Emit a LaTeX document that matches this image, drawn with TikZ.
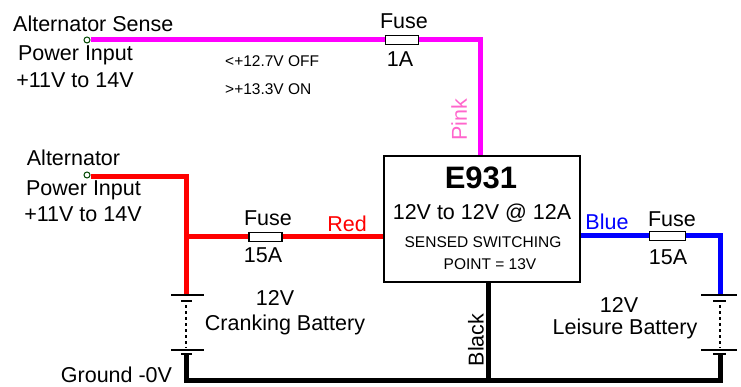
\documentclass[tikz,border=0pt]{standalone}
\usepackage{fontspec}
\setmainfont{Liberation Sans}
\definecolor{wirepink}{RGB}{255,0,255}
\definecolor{textpink}{RGB}{255,102,204}
\definecolor{wirered}{RGB}{255,0,0}
\definecolor{wireblue}{RGB}{0,0,255}
\definecolor{termgreen}{RGB}{0,70,0}
\tikzset{
	lbl/.style={inner sep=0pt,font=\fontsize{21.5}{24}\selectfont},
	smalllbl/.style={inner sep=0pt,font=\fontsize{15.5}{17}\selectfont},
	wire/.style={line width=5pt},
	fusebox/.style={draw,fill=white,line width=1.5pt,minimum width=33pt,minimum height=9pt,inner sep=0pt},
	terminal/.style={circle,draw=termgreen,fill=white,line width=1pt,minimum size=6pt,inner sep=0pt},
	plate/.style={line width=1.5pt},
}
\begin{document}
\begin{tikzpicture}[x=1pt,y=-1pt]
		\useasboundingbox (0,0) rectangle (741,387);
		\coordinate (pinkcorner) at (480,40);
		\coordinate (redcorner) at (186,177);
		\coordinate (redjoin) at (186,237);
		\coordinate (crankplus) at (186,295);
		\coordinate (crankminus) at (186,353);
		\coordinate (groundcorner) at (186,380);
		\coordinate (bluecorner) at (720,236);
		\coordinate (leisplus) at (720,295);
		\coordinate (leisminus) at (720,353);
		\coordinate (leiscorner) at (720,380);
		\coordinate (blackjoin) at (488,380);
		\node[draw,line width=2.5pt,minimum width=196pt,minimum height=126pt,inner sep=0pt] (e931) at (481.75,219) {};
		\node[fusebox] (fuseone) at (402,40) {};
		\node[fusebox] (fusered) at (265.5,237) {};
		\node[fusebox,minimum width=36pt] (fuseblue) at (667.5,236) {};
		\node[terminal] (senseterm) at (87,40) {};
		\node[terminal] (altterm) at (87,175) {};
		% wires
		\draw[wire,color=wirepink] (senseterm.east) -- (fuseone.west);
		\draw[wire,color=wirepink] (fuseone.east) -- (pinkcorner) -- (e931.north -| pinkcorner);
		\draw[wire,color=wirered] (altterm.east |- redcorner) -- (redcorner) -- (crankplus);
		\draw[wire,color=wirered] (redjoin) -- (fusered.west);
		\draw[wire,color=wirered] (fusered.east) -- (e931.west |- fusered);
		\draw[wire,color=wireblue] (e931.east |- fuseblue) -- (fuseblue.west);
		\draw[wire,color=wireblue] (fuseblue.east) -- (bluecorner) -- (leisplus);
		\draw[wire] (crankminus) -- (groundcorner) -- (leiscorner) -- (leisminus);
		\draw[wire] (e931.south -| blackjoin) -- (blackjoin);
		% batteries
		\draw[plate] (171,295) -- (204,295);
		\draw[plate] (181,301) -- (192,301);
		\draw[plate,dashed] (186,305) -- (186,348);
		\draw[plate] (171,350) -- (204,350);
		\draw[plate] (181,354) -- (192,354);
		\draw[plate] (701,295) -- (737,295);
		\draw[plate] (713,301) -- (726,301);
		\draw[plate,dashed] (720,305) -- (720,348);
		\draw[plate] (701,350) -- (737,350);
		\draw[plate] (713,354) -- (726,354);
		% text
		\node[lbl,anchor=west] (sensetext) at (13,24) {Alternator Sense};
		\node[lbl] (sensepower) at (75.5,55) {Power Input};
		\node[lbl] (senserange) at (75,80) {+11V to 14V};
		\node[lbl] (alttext) at (73.5,158) {Alternator};
		\node[lbl] (altpower) at (83.5,190) {Power Input};
		\node[lbl] (altrange) at (83,214) {+11V to 14V};
		\node[lbl] (groundtext) at (116.5,375) {Ground -0V};
		\node[lbl] (cranktop) at (275,298) {12V};
		\node[lbl] (cranktext) at (285,325) {Cranking Battery};
		\node[lbl] (leistop) at (619,305) {12V};
		\node[lbl] (leistext) at (625,329) {Leisure Battery};
		\node[lbl] (fuseonetop) at (404,21) {Fuse};
		\node[lbl] (fuseoneamps) at (400,59) {1A};
		\node[lbl] (fuseredtop) at (268,218) {Fuse};
		\node[lbl] (fuseredamps) at (263,255) {15A};
		\node[lbl] (fusebluetop) at (672,219) {Fuse};
		\node[lbl] (fuseblueamps) at (668,257) {15A};
		\node[lbl,color=wirered] (redtext) at (347,224) {Red};
		\node[lbl,color=wireblue] (bluetext) at (607,222) {Blue};
		\node[lbl,color=textpink,rotate=90] (pinktext) at (459,120) {Pink};
		\node[lbl,rotate=90] (blacktext) at (476,340) {Black};
		\node[inner sep=0pt,font=\bfseries\fontsize{31}{36}\selectfont] (e931title) at (481,178) {E931};
		\node[lbl] (e931rating) at (482,213) {12V to 12V @ 12A};
		\node[smalllbl] (e931sensed) at (483,242) {SENSED SWITCHING};
		\node[smalllbl] (e931point) at (490,264) {POINT = 13V};
		\node[smalllbl,anchor=west] (offtext) at (225,61) {<+12.7V OFF};
		\node[smalllbl,anchor=west] (ontext) at (225,89) {>+13.3V ON};
\end{tikzpicture}
\end{document}
